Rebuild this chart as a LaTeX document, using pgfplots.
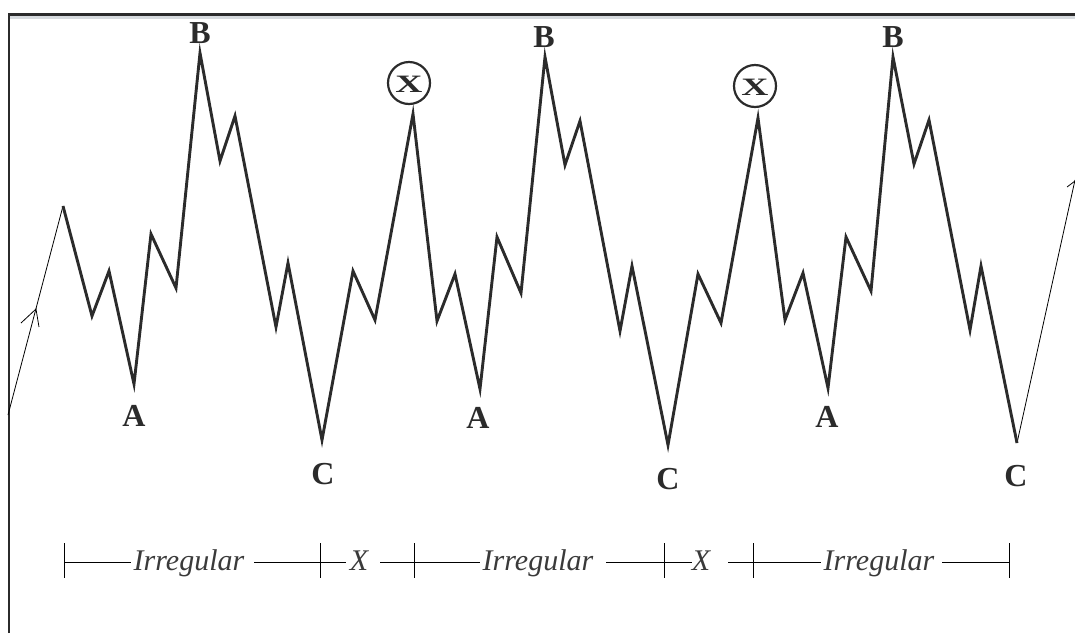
\documentclass[border=0pt]{standalone}
\usepackage{fontspec}
\setmainfont{Liberation Serif}
\usepackage{pgfplots}
\pgfplotsset{compat=1.18}
\definecolor{ink}{HTML}{2B2B2B}
\definecolor{thin}{HTML}{6E6E6E}
\definecolor{txt}{HTML}{3A3A3A}
\definecolor{band}{HTML}{D6DADE}
\begin{document}
\begin{tikzpicture}
\begin{axis}[
  scale only axis, width=1075pt, height=633pt,
  xmin=0, xmax=1075, ymin=0, ymax=633, y dir=reverse,
  hide axis, clip=true,
]
\path (axis cs:0,0) rectangle (axis cs:1075,633);
% frame
\addplot[band, line width=2.5pt] coordinates {(9,17.5) (1075,17.5)};
\addplot[ink, line width=2.2pt] coordinates {(9,633) (9,14.5) (1075,14.5)};
% thin lead-in and lead-out
\addplot[thin, line width=0.8pt] coordinates {(8,415) (63,206)};
\addplot[thin, line width=0.8pt] coordinates {(21,323) (36,309) (39,327)};
\addplot[thin, line width=0.8pt] coordinates {(1017,443) (1075,180)};
\addplot[thin, line width=0.8pt] coordinates {(1067,187) (1075,181)};
% main wave
\addplot[ink, line width=2.9pt, line join=miter] coordinates {
(63,206) (92,316) (109,271) (134,384) (151,234) (176,288) (200,53)
(220,161) (235,116) (276,327) (288,263) (322,440) (353,271) (375,320)
(413,114) (437,321) (455,274) (480,389) (497,237) (521,293) (545,57)
(565,165) (580,121) (620,331) (632,266) (668,445) (698,274) (721,323)
(758,118) (785,320) (803,273) (828,388) (846,237) (871,291) (893,57)
(914,164) (929,120) (970,330) (981,266) (1017,443)
};
% measurement line
\addplot[thin, line width=0.9pt] coordinates {(64,562) (131,562)};
\addplot[thin, line width=0.9pt] coordinates {(254,562) (346,562)};
\addplot[thin, line width=0.9pt] coordinates {(380,562) (480,562)};
\addplot[thin, line width=0.9pt] coordinates {(606,562) (692,562)};
\addplot[thin, line width=0.9pt] coordinates {(728,562) (821,562)};
\addplot[thin, line width=0.9pt] coordinates {(942,562) (1009,562)};
\addplot[thin, line width=0.9pt] coordinates {(64,543) (64,578)};
\addplot[thin, line width=0.9pt] coordinates {(320,543) (320,578)};
\addplot[thin, line width=0.9pt] coordinates {(414,543) (414,578)};
\addplot[thin, line width=0.9pt] coordinates {(664,543) (664,578)};
\addplot[thin, line width=0.9pt] coordinates {(753,543) (753,578)};
\addplot[thin, line width=0.9pt] coordinates {(1009,543) (1009,578)};
% labels
\begin{scope}[every node/.style={text=ink, font=\bfseries\fontsize{32}{32}\selectfont, anchor=base, inner sep=0pt}]
\node at (axis cs:200,43) {B};
\node at (axis cs:544,47) {B};
\node at (axis cs:893,47) {B};
\node at (axis cs:134,426) {A};
\node at (axis cs:478,428) {A};
\node at (axis cs:827,427) {A};
\node at (axis cs:323,484) {C};
\node at (axis cs:668,489) {C};
\node at (axis cs:1016,486) {C};
\end{scope}
\draw[ink, line width=2.2pt] (axis cs:409,83) circle[radius=21pt];
\draw[ink, line width=2.2pt] (axis cs:755,86) circle[radius=21pt];
\node[text=ink, font=\bfseries\fontsize{25}{25}\selectfont, xscale=1.5, inner sep=0pt] at (axis cs:409,84) {X};
\node[text=ink, font=\bfseries\fontsize{25}{25}\selectfont, xscale=1.5, inner sep=0pt] at (axis cs:755,87) {X};
\begin{scope}[every node/.style={text=txt, font=\itshape\fontsize{30}{30}\selectfont, anchor=base, inner sep=0pt}]
\node at (axis cs:189,570) {Irregular};
\node at (axis cs:538,570) {Irregular};
\node at (axis cs:879,570) {Irregular};
\node at (axis cs:359,570) {X};
\node at (axis cs:701,570) {X};
\end{scope}
\end{axis}
\end{tikzpicture}
\end{document}
